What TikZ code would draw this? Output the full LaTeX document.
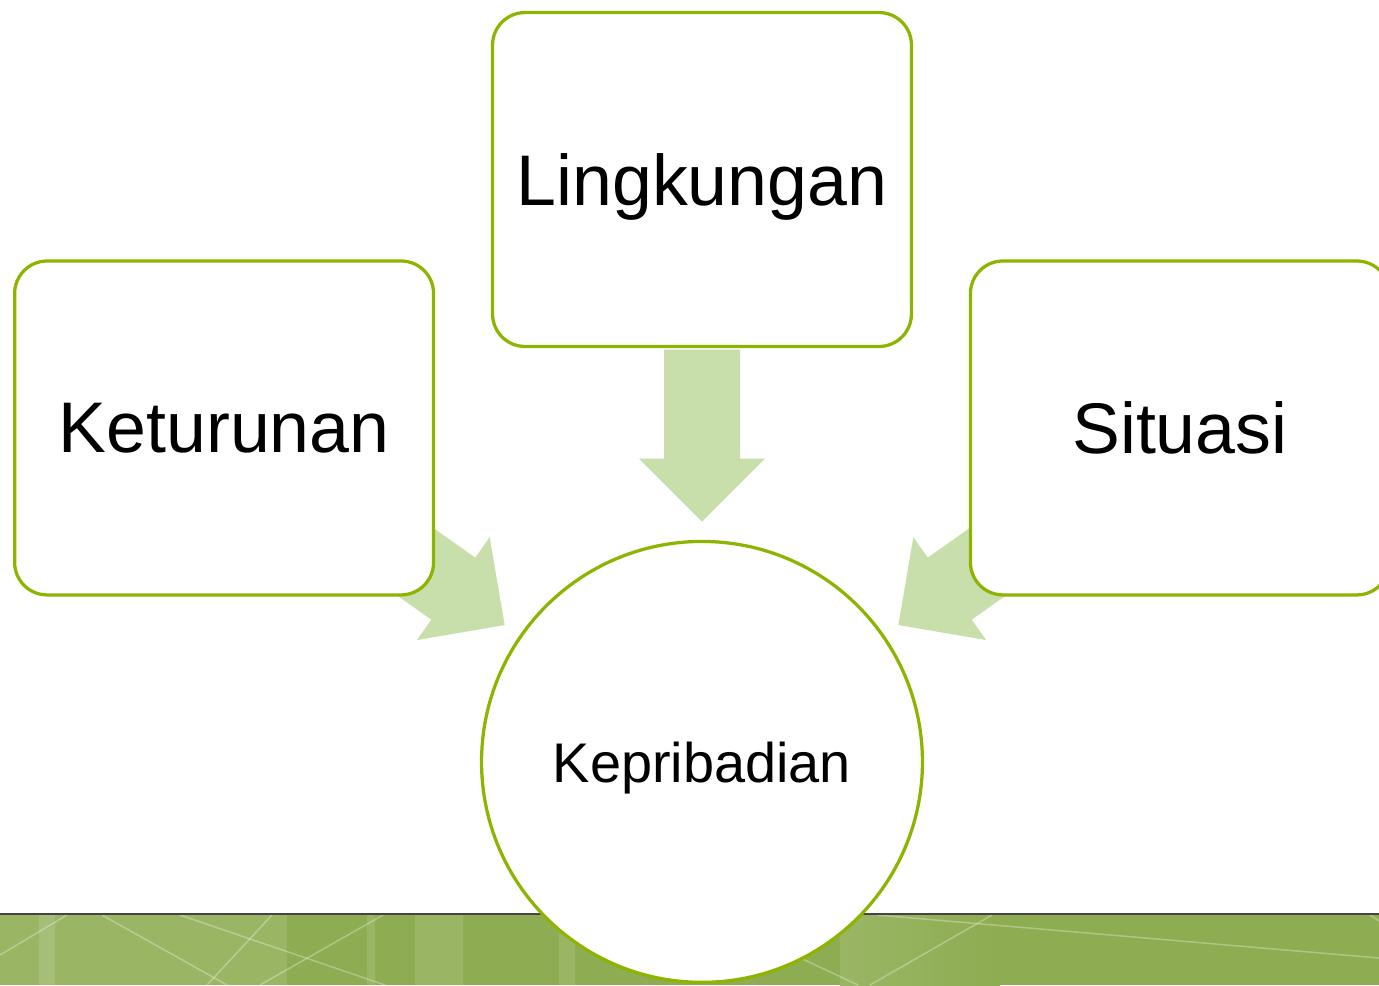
\documentclass[tikz,border=0pt]{standalone}
\usepackage{fontspec}
\setmainfont{Liberation Sans}
\usetikzlibrary{positioning, calc, backgrounds}
\definecolor{BoxGreen}{HTML}{8CB400}
\definecolor{ArrowGreen}{HTML}{C9DFAB}
\definecolor{BandLight}{HTML}{9AB665}
\definecolor{BandDark}{HTML}{8EAC51}
\definecolor{BandStripe}{HTML}{A6BE78}
\definecolor{BandRule}{HTML}{444444}

\begin{document}
\begin{tikzpicture}[x=0.02cm, y=-0.02cm, on grid,
    box/.style={rectangle, rounded corners=0.65cm, draw=BoxGreen, line width=0.065cm, fill=white, minimum width=8.38cm, minimum height=6.68cm, text depth=0pt, font=\fontsize{40.8}{48}\selectfont},
    core/.style={circle, draw=BoxGreen, line width=0.065cm, fill=white, minimum size=8.82cm, text depth=0pt, font=\fontsize{31.8}{38}\selectfont},
    blockarrow/.style={fill=ArrowGreen},
    streak/.style={white, opacity=0.3, line width=0.03cm}]

        \useasboundingbox (0,0) rectangle (1379,985);

        \node[box] (ling) at (702,179.5) {Lingkungan};
        \node[box, below left=4.97cm and 9.56cm of ling] (ket) {Keturunan};
        \node[box, below right=4.97cm and 9.56cm of ling] (sit) {Situasi};
        \node[core, below=11.65cm of ling] (kep) {Kepribadian};

        \begin{scope}[on background layer]
            % green band at the foot
            \fill[BandDark] (0,915) rectangle (1379,985);
            \fill[BandLight] (0,915) rectangle (287,985);
            \fill[BandStripe] (39,915) rectangle (55,985);
            \fill[BandLight] (367,915) rectangle (375,985) (415,915) rectangle (463,985) (559,915) rectangle (575,985);
            \shade[left color=BandLight, right color=BandDark] (840,915) rectangle (1000,985);
            \draw[streak] (0,955) -- (67,915);
            \draw[streak] (102,915) -- (227,985);
            \draw[streak] (180,915) -- (385,985);
            \draw[streak] (272,915) -- (207,985);
            \draw[streak] (383,915) -- (260,985);
            \draw[streak] (760,939) -- (858,985);
            \draw[streak] (877,915) -- (1379,958);
            \draw[streak] (992,915) -- (870,985);
            \draw[streak] (1370,915) -- (1379,921);
            \draw[BandRule, line width=0.04cm] (0,914) -- (1379,914);

            % block arrows into the circle
            \foreach \from/\dx/\dy/\ang in {ling.south/0/173.5/-90, ket.south east/69.5/28.5/-35.3, sit.south west/-70.5/28.5/-144.7}
                \fill[blockarrow, shift={($(\from)+(\dx,\dy)$)}, rotate=\ang]
                    (0,0) -- (-63,63) -- (-63,38) -- (-172,38) -- (-172,-38) -- (-63,-38) -- (-63,-63) -- cycle;
        \end{scope}

    \end{tikzpicture}
\end{document}
